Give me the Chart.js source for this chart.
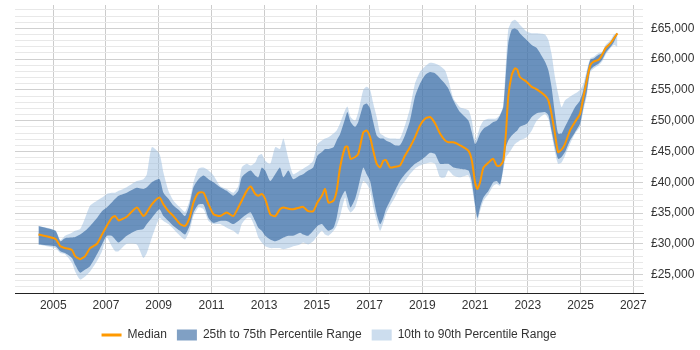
<!DOCTYPE html>
<html>
<head>
<meta charset="utf-8">
<script src="https://cdn.jsdelivr.net/npm/chart.js@4/dist/chart.umd.min.js"></script>
<style>
  html, body { margin: 0; padding: 0; background: #fff; }
  #wrap { width: 700px; height: 350px; }
</style>
</head>
<body>
<div id="wrap"><canvas id="chart" width="700" height="350"></canvas></div>
<script>
// ==================== DATA ====================
const years = [
  2004.44, 2005.08, 2005.27, 2005.45, 2005.71, 2005.83, 2006.02, 2006.21, 2006.4, 2006.66,
  2006.85, 2007.03, 2007.22, 2007.35, 2007.48, 2007.79, 2008.17, 2008.42, 2008.55, 2008.74,
  2009.03, 2009.18, 2009.37, 2009.56, 2009.81, 2010.0, 2010.17, 2010.32, 2010.51, 2010.7,
  2010.89, 2011.08, 2011.33, 2011.58, 2011.83, 2012.02, 2012.15, 2012.34, 2012.49, 2012.66,
  2012.78, 2012.91, 2013.04, 2013.23, 2013.42, 2013.6, 2013.73, 2013.92, 2014.1, 2014.36,
  2014.48, 2014.67, 2014.86, 2015.02, 2015.19, 2015.31, 2015.44, 2015.63, 2015.75, 2015.88,
  2016.07, 2016.16, 2016.28, 2016.45, 2016.57, 2016.76, 2016.89, 2017.02, 2017.14, 2017.27,
  2017.4, 2017.52, 2017.62, 2017.78, 2017.96, 2018.15, 2018.34, 2018.53, 2018.72, 2018.91,
  2019.1, 2019.29, 2019.48, 2019.67, 2019.86, 2019.99, 2020.18, 2020.43, 2020.75, 2020.88,
  2021.0, 2021.09, 2021.19, 2021.32, 2021.51, 2021.69, 2021.82, 2021.95, 2022.07, 2022.17,
  2022.26, 2022.39, 2022.51, 2022.6, 2022.7, 2022.96, 2023.15, 2023.34, 2023.65, 2023.78,
  2023.9, 2024.03, 2024.15, 2024.28, 2024.41, 2024.6, 2024.79, 2024.98, 2025.11, 2025.24,
  2025.37, 2025.5, 2025.69, 2025.82, 2025.95, 2026.14, 2026.27, 2026.4
];

const p10 = [
  29900, 29300, 28500, 28300, 26900, 25500, 24200, 24700, 25500, 27200,
  28800, 31000, 29600, 28800, 28800, 30000, 29900, 27700, 28500, 31000,
  34200, 33700, 33200, 32400, 31300, 30700, 32100, 34500, 35900, 35600,
  33700, 33200, 33200, 32600, 32100, 31500, 33200, 34200, 34200, 32600,
  31000, 30200, 29600, 29300, 29300, 29300, 29100, 29300, 29600, 29900,
  30200, 29900, 30400, 31300, 32100, 31500, 31300, 32100, 32900, 34500,
  37500, 35900, 35100, 35900, 37500, 40200, 39700, 38600, 35900, 33700,
  32100, 33400, 34800, 36200, 37500, 39200, 40200, 41300, 42200, 42700,
  43000, 43200, 43000, 40800, 40800, 41900, 41100, 40800, 41100, 39200,
  35900, 33700, 35300, 37000, 38100, 39400, 39700, 39400, 41900, 44100,
  44600, 45400, 46200, 46500, 46800, 47300, 48400, 50000, 51100, 50300,
  47900, 44900, 43000, 43200, 44300, 46200, 47900, 49000, 51700, 54100,
  57900, 58500, 59000, 59600, 60700, 61800, 62300, 62000
];

const p25 = [
  29900, 29600, 28800, 28500, 27700, 26600, 25300, 25800, 26400, 28300,
  29900, 31300, 31300, 30700, 30200, 31300, 32200, 32400, 33200, 34200,
  35600, 34500, 33700, 32900, 32100, 31500, 32900, 35100, 36400, 36400,
  34200, 33400, 33700, 33700, 33200, 33700, 34200, 34800, 35100, 33700,
  32600, 32100, 31300, 30700, 30400, 30700, 31000, 31300, 31300, 31800,
  31500, 31300, 32100, 32900, 33200, 32600, 32100, 32600, 34200, 37000,
  38600, 37500, 35900, 37300, 39200, 42400, 41300, 40200, 37500, 34800,
  33200, 34200, 35600, 37000, 38600, 40200, 41300, 42200, 43000, 43500,
  44100, 44800, 44600, 43000, 43000, 43000, 42400, 42200, 41900, 40000,
  36400, 34200, 35900, 37500, 38600, 40000, 40200, 39700, 42400, 45700,
  46800, 47600, 48100, 48400, 49000, 49500, 50600, 51200, 51400, 50900,
  48400, 45700, 43800, 44100, 44900, 46800, 48100, 49500, 52200, 54700,
  58200, 58800, 59300, 59900, 61000, 62000, 62800, 64000
];

const median = [
  31500, 30800, 29600, 29300, 29000, 28000, 27500, 28000, 29300, 30000,
  31500, 32900, 34200, 34500, 33800, 34400, 35900, 34500, 35100, 36400,
  37500, 36400, 35300, 34500, 33200, 32900, 34200, 36700, 38300, 38300,
  36400, 34800, 34500, 35100, 34500, 35900, 37000, 38600, 39300, 38100,
  37800, 38100, 37300, 34800, 34500, 35600, 35900, 35700, 35600, 35900,
  36000, 35300, 35300, 36700, 37800, 38900, 36700, 37000, 38600, 42400,
  45700, 45800, 43800, 44100, 44600, 48100, 48400, 47300, 45100, 43000,
  42400, 43500, 43600, 42400, 42500, 42700, 44300, 45700, 47300, 49200,
  50300, 50600, 49600, 47900, 46800, 46500, 46500, 46000, 45100, 43500,
  40000, 38900, 40000, 42400, 43200, 43800, 42700, 42700, 43500, 47900,
  53900, 57400, 58500, 58300, 57100, 56300, 55500, 55100, 54100, 53300,
  51100, 47900, 44900, 45300, 46200, 48400, 49800, 51100, 53900, 56600,
  59000, 59600, 59900, 60700, 61800, 62600, 63400, 64200
];

const p75 = [
  32900, 32100, 30400, 30900, 31000, 31100, 31500, 32100, 32900, 34200,
  35300, 35900, 36700, 37300, 37800, 38300, 39100, 38900, 39200, 40000,
  40500, 38300, 37300, 36200, 35300, 34500, 36400, 39200, 40500, 41100,
  40500, 40000, 39200, 38600, 37800, 38600, 40800, 41600, 41900, 41100,
  40800, 42400, 41900, 40200, 41300, 42400, 40800, 41900, 40500, 41100,
  41300, 41900, 42400, 44300, 44900, 45400, 45400, 45700, 46800, 47800,
  50300, 51400, 49800, 49000, 49800, 52500, 52800, 52000, 49800, 47600,
  47100, 47100, 46800, 46500, 46000, 46000, 47600, 50000, 53900, 56000,
  57400, 57900, 57700, 56900, 56000, 55200, 53300, 51400, 50000, 48100,
  46200, 46800, 47900, 48700, 49200, 49800, 50000, 50900, 52200, 57700,
  62600, 64800, 65000, 64800, 64200, 63100, 62300, 61800, 59600, 58200,
  55500, 51100, 47900, 47900, 49000, 50600, 52200, 53300, 55000, 57700,
  59900, 60100, 60700, 61000, 62000, 62800, 63700, 64300
];

const p90 = [
  32900, 32200, 30600, 31300, 31800, 32100, 32400, 34200, 36200, 37000,
  37500, 38100, 38300, 38300, 38600, 39200, 40200, 40500, 41300, 45700,
  44600, 41600, 38600, 37000, 35900, 35200, 37000, 40000, 42200, 42400,
  41900, 41100, 39400, 38900, 38300, 39400, 42400, 43000, 42700, 43200,
  44300, 44600, 43500, 43000, 45700, 45400, 47100, 43800, 41300, 41900,
  42200, 42700, 43500, 46200, 46800, 47100, 47300, 47900, 48400, 49600,
  51700, 52300, 50600, 50000, 51400, 55000, 55500, 55000, 52800, 50600,
  47900, 47600, 47300, 47100, 47100, 47100, 49200, 52000, 56000, 57900,
  58800, 59400, 59300, 58900, 58200, 56600, 53600, 52200, 51700, 50000,
  46800, 47600, 49000, 50000, 50300, 50300, 50400, 51000, 52500, 59300,
  64800, 66100, 66400, 66100, 65600, 64500, 64200, 64200, 64000, 63100,
  60900, 57100, 54400, 52200, 53300, 53900, 54400, 55000, 56000, 58200,
  60100, 60400, 61000, 61200, 62300, 63100, 64000, 64300
];

const xTicks = [2005, 2007, 2009, 2011, 2013, 2015, 2017, 2019, 2021, 2023, 2025, 2027];

// ==================== STYLE ====================
const FONT = "'Liberation Sans', Arial, sans-serif";
const ORANGE = '#ff9900';
const DARK = 'rgba(32, 88, 151, 0.57)';
const LIGHT = 'rgba(153, 187, 221, 0.5)';

const pts = arr => arr.map((v, i) => ({ x: years[i], y: v }));

const band = (label, arr, fill, color) => ({
  label: label,
  data: pts(arr),
  borderWidth: 0,
  borderColor: 'transparent',
  backgroundColor: color,
  pointRadius: 0,
  fill: fill,
  tension: 0.2
});

// centre the legend under the plot area instead of the whole canvas
const legendUnderPlot = {
  id: 'legendUnderPlot',
  afterLayout(chart) {
    if (chart.legend) chart.legend.right = chart.chartArea.right;
  }
};

// ==================== CHART ====================
new Chart(document.getElementById('chart').getContext('2d'), {
  type: 'line',
  data: {
    datasets: [
      {
        label: 'Median',
        data: pts(median),
        borderColor: ORANGE,
        backgroundColor: ORANGE,
        borderWidth: 2,
        pointRadius: 0,
        fill: false,
        tension: 0.2
      },
      band('25th to 75th Percentile Range', p75, '+1', DARK),
      band('p25', p25, false, DARK),
      band('10th to 90th Percentile Range', p90, '+1', LIGHT),
      band('p10', p10, false, LIGHT)
    ]
  },
  plugins: [legendUnderPlot],
  options: {
    responsive: false,
    animation: false,
    layout: { padding: { left: 15, top: 5, right: 0, bottom: -1 } },
    scales: {
      x: {
        type: 'linear',
        min: 2003.55,
        max: 2027.37,
        afterBuildTicks: axis => { axis.ticks = xTicks.map(v => ({ value: v })); },
        afterFit: axis => { axis.height = 26; axis.paddingLeft = 0; axis.paddingRight = 0; },
        grid: { color: '#cccccc', drawTicks: false },
        border: { display: true, color: '#222', width: 1 },
        ticks: {
          padding: 5,
          color: '#333',
          font: { family: FONT, size: 12 },
          maxRotation: 0,
          callback: v => String(v)
        }
      },
      y: {
        position: 'right',
        min: 22000,
        max: 68800,
        afterBuildTicks: axis => {
          const t = [];
          for (let v = 22000; v <= 68000; v += 1000) t.push({ value: v });
          axis.ticks = t;
        },
        afterFit: axis => { axis.width = 57; axis.paddingTop = 0; axis.paddingBottom = 0; },
        grid: {
          drawTicks: false,
          color: ctx => (ctx.tick && ctx.tick.value % 5000 === 0) ? '#d0d0d0' : '#e8e8e8'
        },
        border: { display: false },
        ticks: {
          padding: 8,
          color: '#333',
          font: { family: FONT, size: 12 },
          autoSkip: false,
          callback: v => v % 5000 === 0 ? '£' + v.toLocaleString('en-GB') : ''
        }
      }
    },
    plugins: {
      tooltip: { enabled: false },
      legend: {
        position: 'bottom',
        labels: {
          usePointStyle: true,
          pointStyleWidth: 20,
          boxHeight: 11,
          padding: 10,
          color: '#333',
          font: { family: FONT, size: 12 },
          generateLabels: chart => [
            { text: 'Median', pointStyle: 'line', strokeStyle: ORANGE, fillStyle: ORANGE, lineWidth: 3, datasetIndex: 0, fontColor: '#333' },
            { text: '25th to 75th Percentile Range', pointStyle: 'rect', fillStyle: DARK, strokeStyle: 'transparent', lineWidth: 0, datasetIndex: 1, fontColor: '#333' },
            { text: '10th to 90th Percentile Range', pointStyle: 'rect', fillStyle: LIGHT, strokeStyle: 'transparent', lineWidth: 0, datasetIndex: 3, fontColor: '#333' }
          ]
        }
      }
    }
  }
});
</script>
</body>
</html>
